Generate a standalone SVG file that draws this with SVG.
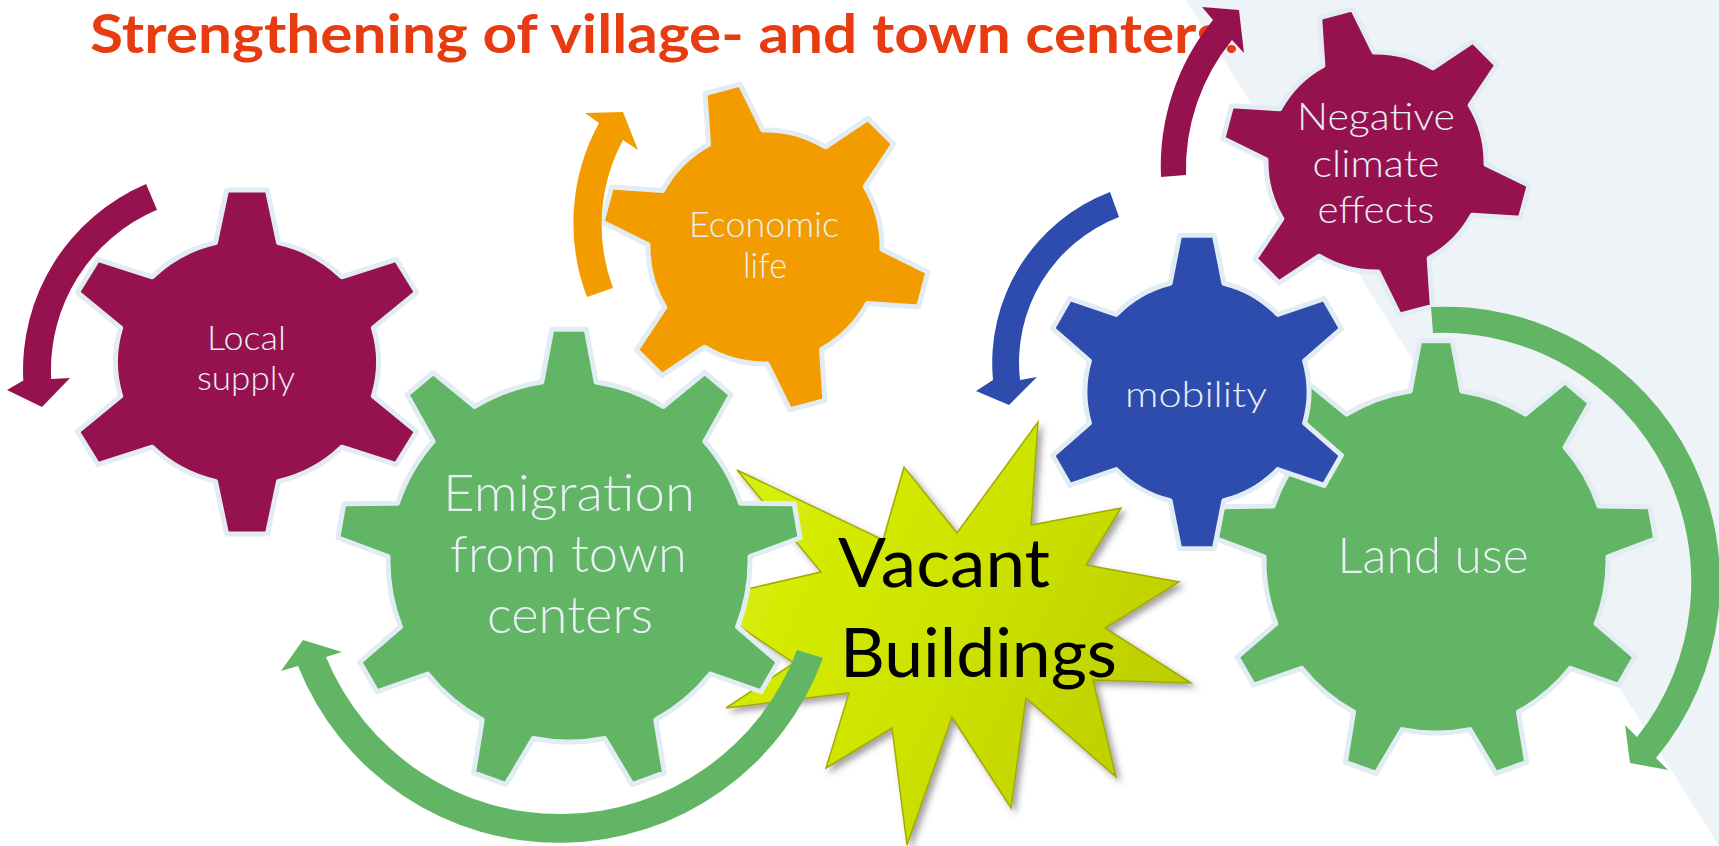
<svg xmlns="http://www.w3.org/2000/svg" width="1719" height="846" viewBox="0 0 1719 846">
<style>
.gear{stroke:#e2ecf3;stroke-width:5;stroke-linejoin:round}
.purple{fill:#96124f}.green{fill:#61b564}.orange{fill:#f39c00}.blue{fill:#2e4cad}
.lbl{font-family:Lato,"Open Sans","Liberation Sans",sans-serif;font-weight:300;fill:#e8eff5;text-anchor:middle}
.title{font-family:Lato,"Liberation Sans",sans-serif;font-weight:700;fill:#e73c12;font-size:53px}
.btxt{font-family:Lato,"Open Sans","Liberation Sans",sans-serif;fill:#000;font-size:67px}
</style>
<defs>
<path id="g6" vector-effect="non-scaling-stroke" d="M96.07,27.76 L128.99,56.58 L113.49,83.42 L72.07,69.32 A100,100 0 0 1 24,97.08 L15.5,140 L-15.5,140 L-24,97.08 A100,100 0 0 1 -72.07,69.32 L-113.49,83.42 L-128.99,56.58 L-96.07,27.76 A100,100 0 0 1 -96.07,-27.76 L-128.99,-56.58 L-113.49,-83.42 L-72.07,-69.32 A100,100 0 0 1 -24,-97.08 L-15.5,-140 L15.5,-140 L24,-97.08 A100,100 0 0 1 72.07,-69.32 L113.49,-83.42 L128.99,-56.58 L96.07,-27.76 A100,100 0 0 1 96.07,27.76 Z"/>
<path id="g9" vector-effect="non-scaling-stroke" d="M-15,-98.87 L-9.5,-128 L9.5,-128 L15,-98.87 A100,100 0 0 1 52.06,-85.38 L75,-104.16 L89.56,-91.94 L75.04,-66.1 A100,100 0 0 1 94.77,-31.93 L124.4,-31.58 L127.7,-12.86 L99.97,-2.39 A100,100 0 0 1 93.12,36.45 L115.6,55.77 L106.1,72.23 L78.12,62.43 A100,100 0 0 1 47.91,87.78 L52.71,117.03 L34.85,123.53 L19.71,98.04 A100,100 0 0 1 -19.71,98.04 L-34.85,123.53 L-52.71,117.03 L-47.91,87.78 A100,100 0 0 1 -78.12,62.43 L-106.1,72.23 L-115.6,55.77 L-93.12,36.45 A100,100 0 0 1 -99.97,-2.39 L-127.7,-12.86 L-124.4,-31.58 L-94.77,-31.93 A100,100 0 0 1 -75.04,-66.1 L-89.56,-91.94 L-75,-104.16 L-52.06,-85.38 A100,100 0 0 1 -15,-98.87 Z"/>
<linearGradient id="burstFill" x1="0" y1="0.3" x2="1" y2="0.7">
<stop offset="0" stop-color="#d8f00a"/>
<stop offset="0.5" stop-color="#cde300"/>
<stop offset="1" stop-color="#bccb00"/>
</linearGradient>
<filter id="shadow" x="-10%" y="-10%" width="130%" height="130%">
<feDropShadow dx="4" dy="4" stdDeviation="3" flood-color="#444" flood-opacity="0.5"/>
</filter>
</defs>

<rect width="1719" height="846" fill="#ffffff"/>
<polygon points="1186,0 1719,0 1719,846" fill="#edf3f7"/>

<text class="title" x="90" y="53" textLength="1150" lengthAdjust="spacingAndGlyphs">Strengthening of village- and town centers!</text>

<g id="local-supply">
<use href="#g6" class="gear purple" transform="translate(247,362) scale(1.315,1.229)"/>
<text class="lbl" x="246.5" y="350" font-size="33" textLength="79" lengthAdjust="spacingAndGlyphs">Local</text>
<text class="lbl" x="246" y="390" font-size="33" textLength="98" lengthAdjust="spacingAndGlyphs">supply</text>
</g>

<g id="economic-life">
<use href="#g6" class="gear orange" transform="translate(765,247) rotate(-15) scale(1.17)"/>
<text class="lbl" x="764" y="237" font-size="35" textLength="150" lengthAdjust="spacingAndGlyphs">Economic</text>
<text class="lbl" x="765" y="278" font-size="35" textLength="44" lengthAdjust="spacingAndGlyphs">life</text>
</g>

<g id="land-use">
<use href="#g9" class="gear green" transform="translate(1436,561) scale(1.72)"/>
<text class="lbl" x="1433" y="573" font-size="50" textLength="191" lengthAdjust="spacingAndGlyphs">Land use</text>
</g>

<g id="mobility">
<use href="#g6" class="gear blue" transform="translate(1197,392) scale(1.12)"/>
<text class="lbl" x="1196" y="407" font-size="36" textLength="142" lengthAdjust="spacingAndGlyphs">mobility</text>
</g>

<g id="negative-climate-effects">
<use href="#g6" class="gear purple" transform="translate(1376,162) rotate(-15) scale(1.1)"/>
<text class="lbl" x="1376" y="130" font-size="37" textLength="158" lengthAdjust="spacingAndGlyphs">Negative</text>
<text class="lbl" x="1376" y="177" font-size="37" textLength="127" lengthAdjust="spacingAndGlyphs">climate</text>
<text class="lbl" x="1376" y="223" font-size="37" textLength="117" lengthAdjust="spacingAndGlyphs">effects</text>
</g>

<g id="vacant-buildings">
<polygon filter="url(#shadow)" fill="url(#burstFill)" stroke="#a4aa00" stroke-width="1.5" stroke-linejoin="miter" points="737,470 883,540 904,467 957,533 1038,422 1031,525 1121,508 1086,565 1179,582 1105,628 1191,683 1093,680 1116,777 1026,698 1011,808 952,717 907,845 892,728 826,768 849,693 726,708 794,663 700,600 821,572"/>
<text class="btxt" x="838" y="587" textLength="212" lengthAdjust="spacingAndGlyphs">Vacant</text>
<text class="btxt" x="840" y="677" textLength="277" lengthAdjust="spacingAndGlyphs">Buildings</text>
</g>

<g id="emigration-from-town-centers">
<use href="#g9" class="gear green" transform="translate(569,561) scale(1.81)"/>
<text class="lbl" x="569" y="511" font-size="52" textLength="252" lengthAdjust="spacingAndGlyphs">Emigration</text>
<text class="lbl" x="568.5" y="572" font-size="52" textLength="237" lengthAdjust="spacingAndGlyphs">from town</text>
<text class="lbl" x="570" y="633" font-size="52" textLength="166" lengthAdjust="spacingAndGlyphs">centers</text>
</g>

<g id="connectors">
<path class="purple" d="M146.1,184.1 A202,202 0 0 0 23.3,380.6 L7,390 L42,407 L70,378 L51.2,379.1 A174,174 0 0 1 157,209.8 Z"/>
<path class="orange" d="M587,297 A208,208 0 0 1 599,123 L585,113 L623,112 L638,150 L623,140 A180,180 0 0 0 613,288 Z"/>
<path class="purple" d="M1161,177 A231,231 0 0 1 1213,20 L1202,7 L1239,10 L1244,53 L1232,40 A205,205 0 0 0 1186,175 Z"/>
<path class="blue" d="M1110,192 A183,183 0 0 0 993,380 L976,391 L1009,405 L1037,377 L1020,380 A156,156 0 0 1 1119,217 Z"/>
<path class="green" d="M823,658 A281,281 0 0 1 298,666 L281,671 L303,640 L342,652 L326,657 A253,253 0 0 0 797,650 Z"/>
<path class="green" d="M1431,307 A275,275 0 0 1 1656,758 L1668,770 L1630,763 L1625,725 L1637,737 A249,249 0 0 0 1433,333 Z"/>
</g>
</svg>
